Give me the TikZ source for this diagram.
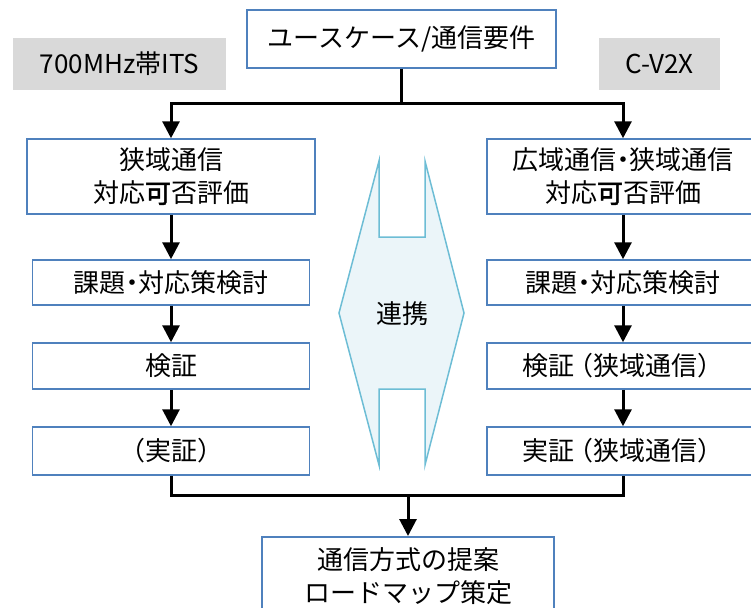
\documentclass[tikz,border=0pt]{standalone}
\usepackage{fontspec}
\setmainfont{Noto Sans CJK JP}[AutoFakeBold=2]
\usetikzlibrary{arrows.meta}
\definecolor{boxblue}{HTML}{4F81BD}
\definecolor{grayfill}{HTML}{D9D9D9}
\definecolor{linkfill}{HTML}{EBF5F9}
\definecolor{linkline}{HTML}{6DBDD5}
\tikzset{
  box/.style={draw=boxblue, line width=1.5pt, fill=white, inner sep=0pt, align=center},
  tag/.style={fill=grayfill, inner sep=0pt},
  conn/.style={line width=3pt},
  arr/.style={conn, -{Triangle[width=17pt,length=17pt]}},
  linkshape/.style={draw=linkline, fill=linkfill, line width=1.5pt, line join=miter}
}
\begin{document}
\begin{tikzpicture}[x=1pt,y=-1pt,font=\fontsize{26}{33}\selectfont]
\useasboundingbox (0,0) rectangle (751,607);
\clip (0,0) rectangle (751,607);
% link shape
\draw[linkshape] (379,161) -- (379,237) -- (425,237) -- (425,161) -- (464,313)
  -- (425,465) -- (425,389) -- (379,389) -- (379,465) -- (339,313) -- cycle;
\node (K) at (402,314) {連携};
% nodes
\node[box, minimum width=309pt, minimum height=58pt] (T) at (401.5,39) {ユースケース/通信要件};
\node[tag, minimum width=213pt, minimum height=52pt] (G1) at (119.5,64) {700MHz帯ITS};
\node[tag, minimum width=121pt, minimum height=52pt] (G2) at (659.5,64) {C-V2X};
\node[box, minimum width=288pt, minimum height=75pt] (L1) at (171,176.5) {狭域通信\\対応\textbf{可}否評価};
\node[box, minimum width=277pt, minimum height=45pt] (L2) at (171,282.5) {課題\hspace{-0.25em}・\hspace{-0.25em}対応策検討};
\node[box, minimum width=277pt, minimum height=46pt] (L3) at (171,366) {検証};
\node[box, minimum width=277pt, minimum height=48pt] (L4) at (171,451) {（実証）};
\node[box, minimum width=272pt, minimum height=75pt] (R1) at (623,176.5) {広域通信\hspace{-0.25em}・\hspace{-0.25em}狭域通信\\対応\textbf{可}否評価};
\node[box, minimum width=272pt, minimum height=45pt] (R2) at (623,282.5) {課題\hspace{-0.25em}・\hspace{-0.25em}対応策検討};
\node[box, minimum width=272pt, minimum height=46pt] (R3) at (623,366) {検証\hspace{-0.3em}（狭域通信）};
\node[box, minimum width=272pt, minimum height=48pt] (R4) at (623,451) {実証\hspace{-0.3em}（狭域通信）};
\node[box, minimum width=292pt, minimum height=78pt, anchor=north] (B) at (408,536) {通信方式の提案\\ロードマップ策定};
% connectors
\coordinate (j1) at (401.5,104);
\coordinate (j2) at (408,495);
\draw[conn] (T.south) -- (j1);
\draw[arr] (j1) -| (L1.north);
\draw[arr] (j1) -| (R1.north);
\draw[arr] (L1.south) -- (L2.north);
\draw[arr] (L2.south) -- (L3.north);
\draw[arr] (L3.south) -- (L4.north);
\draw[arr] (R1.south) -- (R2.north);
\draw[arr] (R2.south) -- (R3.north);
\draw[arr] (R3.south) -- (R4.north);
\draw[conn] (L4.south) |- (j2) -| (R4.south);
\draw[arr] (j2) -- (B.north);
\end{tikzpicture}
\end{document}
